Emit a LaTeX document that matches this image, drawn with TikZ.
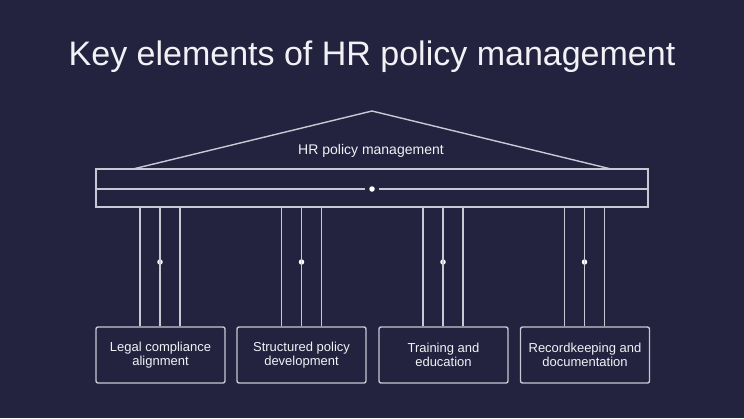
\documentclass[tikz,border=0pt]{standalone}
\usepackage{fontspec}
\setmainfont{Liberation Sans}
\definecolor{bg}{HTML}{23223F}
\definecolor{ln}{HTML}{C9C9D6}
\definecolor{tx}{HTML}{F2F2F6}
\begin{document}
\begin{tikzpicture}[x=1pt,y=-1pt,
  ln/.style={draw=ln,line width=1.4pt},
  card/.style={ln,rounded corners=2pt,minimum width=129pt,minimum height=56pt,inner sep=0pt,align=center,text=tx,font=\fontsize{13}{14}\selectfont},
  dotn/.style={circle,fill=white,inner sep=0pt,minimum size=5.5pt}]
\fill[bg] (0,0) rectangle (744,418);
\useasboundingbox (0,0) rectangle (744,418);
\node[text=tx,font=\fontsize{34}{36}\selectfont] (title) at (372,57) {Key elements of HR policy management};
% beam
\draw[ln] (96,169) rectangle (648,207);
\coordinate (bl) at (96,189);
\coordinate (br) at (648,189);
\node[dotn] (bd) at (372,189) {};
\draw[ln] (bl) -- ([xshift=-7pt]bd.center);
\draw[ln] ([xshift=7pt]bd.center) -- (br);
% roof
\coordinate (rl) at (133,169);
\coordinate (apex) at (372,111);
\coordinate (rr) at (611,169);
\draw[ln] (rl) -- (apex) -- (rr);
\node[text=tx,font=\fontsize{14}{16}\selectfont] (roof) at (371,151) {HR policy management};
% cards
\node[card] (c1) at (160.5,355) {Legal compliance\\alignment};
\node[card] (c2) at (301.5,355) {Structured policy\\development};
\node[card] (c3) at (443.5,355) {Training and\\education};
\node[card] (c4) at (585,355) {Recordkeeping and\\documentation};
% pillars
\foreach \i/\x in {1/160,2/301.5,3/443,4/584.5}{
  \coordinate (t\i) at (\x,207);
  \node[dotn] (d\i) at (\x,262) {};
  \draw[ln] ([xshift=-20pt]t\i) -- ([xshift=-20pt]c\i.north -| t\i);
  \draw[ln] ([xshift=20pt]t\i) -- ([xshift=20pt]c\i.north -| t\i);
  \draw[ln] (t\i) -- ([yshift=-8pt]d\i.center);
  \draw[ln] ([yshift=8pt]d\i.center) -- (c\i.north -| t\i);
}
\end{tikzpicture}
\end{document}
